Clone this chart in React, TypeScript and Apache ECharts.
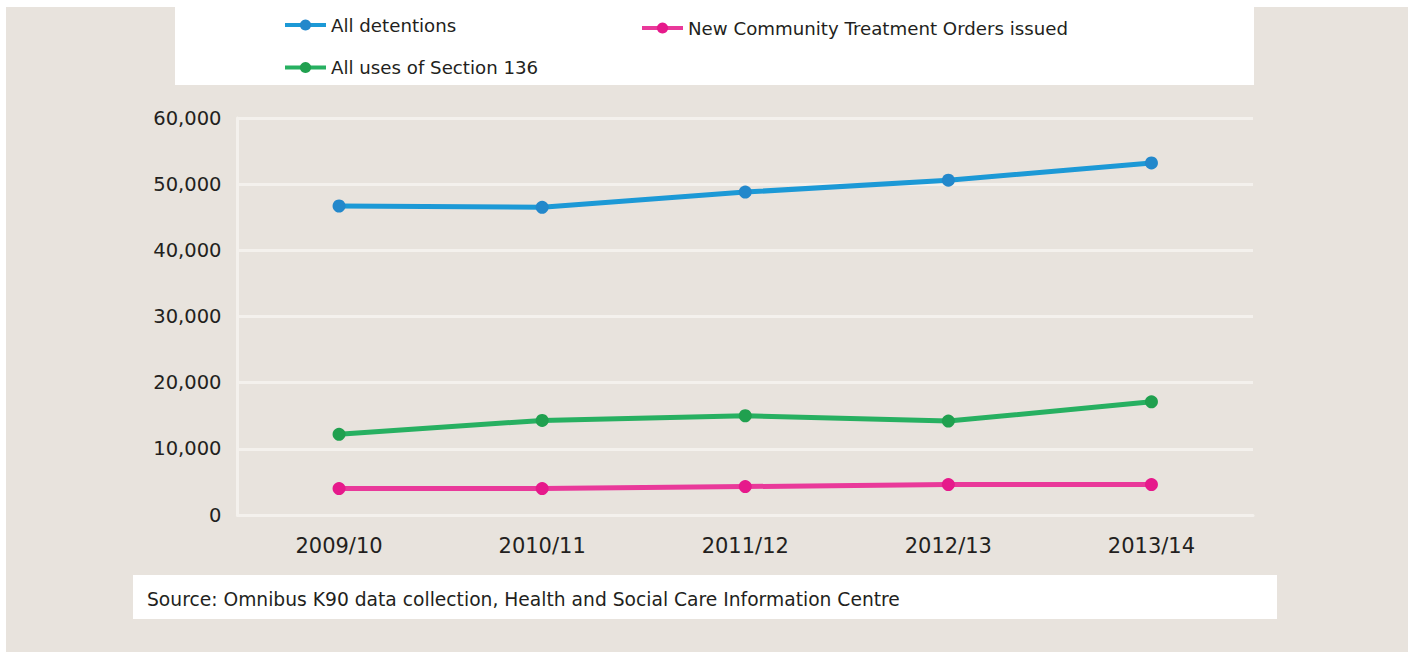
import React, { useEffect, useRef } from "react";
import * as echarts from "echarts";

const categories = ["2009/10", "2010/11", "2011/12", "2012/13", "2013/14"];
const allDetentions = [46700, 46500, 48800, 50600, 53200];
const newCTOs = [4000, 4000, 4300, 4600, 4600];
const section136 = [12200, 14300, 15000, 14200, 17100];
const yTicks = { min: 0, max: 60000, interval: 10000 };
const sourceText = "Source: Omnibus K90 data collection, Health and Social Care Information Centre";

const FONT = "DejaVu Sans";
const TEXT = "#231f20";
const BEIGE = "#e8e3dd";
const GRIDLINE = "#f4f1ed";

export default function App() {
  const ref = useRef<HTMLDivElement>(null);
  useEffect(() => {
    if (!ref.current) return;
    const chart = echarts.init(ref.current, null, { renderer: "svg" });
    const mkSeries = (name: string, data: number[], line: string, dot: string) => ({
      name,
      type: "line",
      data,
      symbol: "circle",
      symbolSize: 13,
      lineStyle: { color: line, width: 5 },
      itemStyle: { color: dot },
      z: 5,
    });
    const legendCommon = {
      orient: "vertical",
      padding: 0,
      itemWidth: 41,
      itemHeight: 14,
      lineStyle: { width: 4 },
      textStyle: { fontFamily: FONT, fontSize: 18.2, color: TEXT },
    };
    chart.setOption({
      animation: false,
      backgroundColor: "#ffffff",
      textStyle: { fontFamily: FONT },
      graphic: [
        { type: "rect", z: -100, silent: true, shape: { x: 6, y: 7, width: 1402, height: 645 }, style: { fill: BEIGE } },
        { type: "rect", z: -90, silent: true, shape: { x: 175, y: 0, width: 1079, height: 85 }, style: { fill: "#ffffff" } },
        { type: "rect", z: -90, silent: true, shape: { x: 133, y: 575, width: 1144, height: 44 }, style: { fill: "#ffffff" } },
        {
          type: "text",
          z: 10,
          x: 147,
          y: 599,
          style: { text: sourceText, fontFamily: FONT, fontSize: 18.7, fill: TEXT, verticalAlign: "middle", align: "left" },
        },
      ],
      legend: [
        {
          ...legendCommon,
          data: ["All detentions", "All uses of Section 136"],
          left: 283,
          top: 16,
          itemGap: 24.5,
        },
        {
          ...legendCommon,
          data: ["New Community Treatment Orders issued"],
          left: 640,
          top: 19,
        },
      ],
      grid: { left: 237.5, right: 155, top: 118, bottom: 137, containLabel: false },
      xAxis: {
        type: "category",
        data: categories,
        boundaryGap: true,
        axisLine: { show: true, lineStyle: { color: GRIDLINE, width: 3 } },
        axisTick: { show: false },
        axisLabel: { fontFamily: FONT, fontSize: 21, color: TEXT, margin: 20 },
      },
      yAxis: {
        type: "value",
        min: yTicks.min,
        max: yTicks.max,
        interval: yTicks.interval,
        axisLine: { show: true, lineStyle: { color: GRIDLINE, width: 3 } },
        axisTick: { show: false },
        splitLine: { show: true, lineStyle: { color: GRIDLINE, width: 3 } },
        axisLabel: {
          fontFamily: FONT,
          fontSize: 19.5,
          color: TEXT,
          margin: 16,
          formatter: (v: number) => v.toLocaleString("en-US"),
        },
      },
      series: [
        mkSeries("All detentions", allDetentions, "#1c99d6", "#2388cb"),
        mkSeries("New Community Treatment Orders issued", newCTOs, "#e9399a", "#e6198b"),
        mkSeries("All uses of Section 136", section136, "#27b061", "#20a04f"),
      ],
    });
    return () => chart.dispose();
  }, []);
  return (
    <div
      ref={ref}
      style={{ position: "absolute", left: 0, top: 0, width: 1408, height: 652 }}
    />
  );
}
